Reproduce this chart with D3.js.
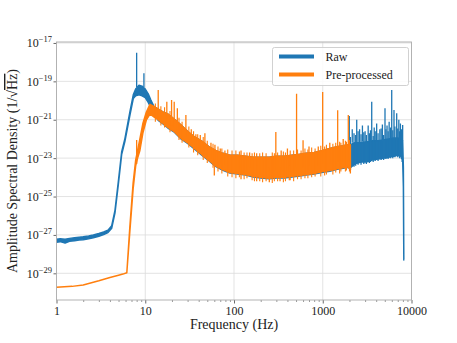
<!DOCTYPE html>
<html>
<head>
<meta charset="utf-8">
<script src="https://cdn.jsdelivr.net/npm/d3@7"></script>
<style>
  body { margin: 0; background: #fff; }
  text { font-family: "Liberation Serif", "DejaVu Serif", serif; fill: #222; }
</style>
</head>
<body>
<div id="chart"></div>
<script>
// values are log10 of the amplitude spectral density (1/sqrt(Hz))

// Raw strain: noise band (freq, lower edge, upper edge)
var rawF  = [1, 1.1, 1.25, 1.4, 1.6, 1.8, 2, 2.3, 2.6, 3, 3.4, 3.8, 4.19, 4.56, 4.97, 5.42, 5.9, 6.73, 7.33, 7.8, 8.5, 9.2, 10, 10.8, 11.5, 12.5,
             14, 16, 18, 21, 25, 30, 36, 43, 52, 62, 75, 90, 110, 135, 165, 200, 250, 300, 370, 450, 550, 650, 800, 1000, 1200, 1450, 1700, 1900,
             2048, 2300, 2700, 3100, 3600, 4200, 4800, 5500, 6300, 7000, 7600, 7950, 8100, 8192];
var rawLo = [-27.38, -27.35, -27.42, -27.33, -27.3, -27.27, -27.25, -27.2, -27.15, -27.07, -26.98, -26.88, -26.65, -25.85, -24.38, -22.82, -22.12, -20.75, -19.9, -19.75, -19.7, -19.75, -19.85, -20.1, -20.35, -20.7,
             -21.03, -21.23, -21.43, -21.63, -21.98, -22.23, -22.53, -22.83, -23.13, -23.43, -23.63, -23.78, -23.83, -23.88, -23.98, -24.03, -24.08, -24.03, -24.03, -23.98, -23.93, -23.88, -23.83, -23.73, -23.68, -23.58, -23.53, -23.48,
             -23.5, -23.3, -23.2, -23.2, -23.1, -23.05, -23.0, -22.95, -22.9, -22.85, -22.9, -23.1, -24.5, -28.3];
var rawHi = [-27.22, -27.2, -27.22, -27.18, -27.15, -27.12, -27.1, -27.05, -27.0, -26.93, -26.85, -26.75, -26.52, -25.72, -24.24, -22.68, -21.98, -20.57, -19.7, -19.4, -19.2, -19.25, -19.4, -19.65, -19.95, -20.3,
             -20.45, -20.6, -20.7, -20.95, -21.25, -21.6, -21.9, -22.1, -22.4, -22.6, -22.75, -22.85, -22.85, -22.9, -22.95, -22.95, -22.95, -22.9, -22.9, -22.85, -22.8, -22.75, -22.7, -22.6, -22.5, -22.4, -22.35, -22.3,
             -22.3, -22.2, -22.2, -22.15, -22.1, -22.1, -22.05, -22.0, -21.95, -21.95, -22.0, -22.1, -23.5, -28.3];

// Raw strain: narrow lines (freq, foot, tip)
var rawSpikeF  = [8.0, 9.66, 1990, 2150, 2414, 2600, 2800, 3000, 3250, 3563, 3800, 4050, 4400, 4700, 5028, 5300, 5600, 5985, 6350, 6810, 7200, 7500, 7950,
                  2050, 2250, 2350, 2500, 2700, 2900, 3100, 3350, 3450, 3700, 3900, 4200, 4550, 4850, 5150, 5450, 5800, 6150, 6500, 7000, 7350, 7700, 7850];
var rawSpikeLo = [-19.3, -19.3, -22.3, -22.2, -22.2, -22.2, -22.15, -22.15, -22.1, -22.1, -22.1, -22.1, -22.1, -22.05, -22.05, -22.0, -22.0, -22.0, -21.95, -21.95, -21.95, -22.0, -22.1,
                  -23.6, -23.45, -23.4, -23.35, -23.35, -23.3, -23.3, -23.25, -23.2, -23.2, -23.15, -23.15, -23.1, -23.1, -23.05, -23.05, -23.0, -23.0, -22.95, -22.95, -23.0, -23.05, -23.2];
var rawSpikeHi = [-17.51, -18.58, -20.8, -21.5, -21.0, -21.5, -21.3, -21.6, -21.3, -20.06, -21.4, -21.2, -21.5, -21.25, -20.4, -21.3, -21.1, -19.45, -20.49, -20.66, -21.0, -21.2, -21.27,
                  -21.9, -21.7, -21.8, -21.6, -21.75, -21.65, -21.8, -21.7, -21.55, -21.85, -21.6, -21.7, -21.45, -21.8, -21.5, -21.6, -21.4, -21.55, -21.35, -21.45, -21.6, -21.5, -21.7];

// Pre-processed strain: noise band
var prepF  = [1, 1.5, 2, 3, 4, 5, 5.6, 6.2, 6.7, 7.3, 7.8, 8.2, 8.7, 9.4, 10.3, 11.3, 12.5, 14, 16, 18, 21, 25, 30, 36, 43, 52, 62, 75, 90,
              110, 135, 165, 200, 250, 300, 370, 450, 550, 650, 800, 1000, 1200, 1450, 1700, 1900, 2048];
var prepLo = [-29.73, -29.68, -29.61, -29.39, -29.22, -29.1, -29.04, -28.97, -26.85, -24.6, -23.4, -23.0, -22.6, -21.7, -21.0, -20.7, -20.85, -21.0, -21.2, -21.4, -21.6, -21.95, -22.2, -22.5, -22.8, -23.1, -23.4, -23.6, -23.75,
              -23.8, -23.85, -23.95, -24.0, -24.05, -24.0, -24.0, -23.95, -23.9, -23.85, -23.8, -23.7, -23.65, -23.55, -23.5, -23.45, -23.6];
var prepHi = [-29.73, -29.68, -29.61, -29.39, -29.22, -29.1, -29.04, -28.97, -26.6, -24.3, -23.1, -22.6, -22.0, -21.2, -20.6, -20.2, -20.3, -20.45, -20.6, -20.7, -20.95, -21.25, -21.6, -21.9, -22.1, -22.4, -22.6, -22.75, -22.85,
              -22.85, -22.9, -22.95, -22.95, -22.95, -22.9, -22.9, -22.85, -22.8, -22.75, -22.7, -22.6, -22.5, -22.4, -22.35, -22.3, -22.3];

// Pre-processed strain: narrow lines and dips
var prepSpikeF  = [8.0, 14.0, 17.5, 19.8, 21.2, 23, 28.7, 33, 37.2, 41.7, 47, 55, 61, 70, 79, 120, 150, 180, 296, 340, 400, 507, 600, 700, 890, 998, 1200, 1473, 1700, 1940,
                   60, 120, 180, 250, 330, 420, 2048];
var prepSpikeLo = [-23.3, -20.9, -21.1, -21.3, -21.4, -21.5, -21.9, -22.1, -22.4, -22.6, -22.8, -23.0, -23.2, -23.3, -23.4, -23.5, -23.5, -23.5, -23.6, -23.6, -23.5, -23.5, -23.5, -23.4, -23.4, -23.3, -23.3, -23.2, -23.2, -23.1,
                    -23.0, -23.3, -23.4, -23.5, -23.5, -23.4, -23.0];
var prepSpikeHi = [-22.05, -19.45, -20.06, -19.97, -20.06, -20.4, -20.75, -21.5, -21.75, -21.8, -21.7, -22.2, -22.3, -22.5, -22.6, -22.6, -22.7, -22.75, -21.64, -22.6, -22.5, -19.64, -22.07, -22.4, -22.4, -19.55, -22.2, -20.5, -22.0, -20.75,
                    -23.9, -24.1, -24.2, -24.25, -24.2, -24.15, -23.8];

// Pre-processed strain: ragged edges of the noise band
var prepRagF  = [13, 15, 16.5, 19, 24, 26, 31, 35, 39, 45, 50, 58, 66, 73, 85, 95, 105, 115, 130, 140, 160, 170, 195, 210, 230, 270, 285, 310, 360, 380,
                 430, 470, 520, 570, 630, 680, 750, 820, 950, 1050, 1100, 1300, 1400, 1550, 1600, 1800, 1850, 2000];
var prepRagLo = [-21.1, -21.3, -21.4, -21.65, -22.05, -22.2, -22.45, -22.7, -22.85, -23.1, -23.25, -23.5, -23.7, -23.8, -23.95, -24.0, -24.05, -24.0, -24.1, -24.05, -24.15, -24.2, -24.2, -24.25, -24.2, -24.3, -24.2, -24.2, -24.25, -24.2,
                 -24.15, -24.2, -24.1, -24.1, -24.05, -24.05, -24.0, -23.95, -23.95, -23.9, -23.85, -23.85, -23.75, -23.8, -23.7, -23.7, -23.65, -23.7];
var prepRagHi = [-20.15, -20.3, -20.35, -20.55, -20.9, -21.1, -21.35, -21.6, -21.75, -21.9, -22.1, -22.25, -22.4, -22.5, -22.55, -22.6, -22.6, -22.65, -22.7, -22.7, -22.75, -22.7, -22.75, -22.7, -22.75, -22.7, -22.75, -22.7, -22.65, -22.7,
                 -22.6, -22.6, -22.55, -22.6, -22.5, -22.55, -22.45, -22.5, -22.35, -22.4, -22.3, -22.25, -22.2, -22.15, -22.2, -22.1, -22.15, -22.05];

var xTicks = [1, 10, 100, 1000, 10000];
var yTickExp = [-17, -19, -21, -23, -25, -27, -29];
var seriesNames = ["Raw", "Pre-processed"];
var seriesColors = ["#1f77b4", "#ff7f0e"];

var W = 457, H = 343;
var pLeft = 56.5, pRight = 411.5, pTop = 42, pBottom = 300;

var svg = d3.select("#chart").append("svg")
  .attr("width", W).attr("height", H);

var x = d3.scaleLog().domain([1, 10000]).range([pLeft, pRight]);
var y = d3.scaleLog().domain([Math.pow(10, -30.39), Math.pow(10, -16.95)]).range([pBottom, pTop]);

function zip(F, lo, hi) {
  return F.map(function(f, i) { return {f: f, lo: Math.pow(10, lo[i]), hi: Math.pow(10, hi[i])}; });
}

// grid
svg.append("g").selectAll("line").data(xTicks.slice(1, -1)).enter().append("line")
  .attr("x1", function(d) { return x(d); }).attr("x2", function(d) { return x(d); })
  .attr("y1", pTop).attr("y2", pBottom)
  .attr("stroke", "#dcdcdc").attr("stroke-width", 0.8);
svg.append("g").selectAll("line").data(yTickExp).enter().append("line")
  .attr("x1", pLeft).attr("x2", pRight)
  .attr("y1", function(d) { return y(Math.pow(10, d)); }).attr("y2", function(d) { return y(Math.pow(10, d)); })
  .attr("stroke", "#dcdcdc").attr("stroke-width", 0.8);

svg.append("clipPath").attr("id", "clip").append("rect")
  .attr("x", pLeft).attr("y", pTop).attr("width", pRight - pLeft).attr("height", pBottom - pTop);

var plot = svg.append("g").attr("clip-path", "url(#clip)");

var area = d3.area()
  .x(function(d) { return x(d.f); })
  .y0(function(d) { return y(d.lo); })
  .y1(function(d) { return y(d.hi); });

function drawBand(F, lo, hi, color) {
  plot.append("path").datum(zip(F, lo, hi))
    .attr("d", area)
    .attr("fill", color).attr("stroke", color)
    .attr("stroke-width", 1.5).attr("stroke-linejoin", "round");
}

function drawSticks(F, lo, hi, color, w) {
  plot.append("g").selectAll("line").data(zip(F, lo, hi)).enter().append("line")
    .attr("x1", function(d) { return x(d.f); }).attr("x2", function(d) { return x(d.f); })
    .attr("y1", function(d) { return y(d.lo); }).attr("y2", function(d) { return y(d.hi); })
    .attr("stroke", color).attr("stroke-width", w);
}

drawBand(rawF, rawLo, rawHi, seriesColors[0]);
drawSticks(rawSpikeF, rawSpikeLo, rawSpikeHi, seriesColors[0], 1.3);
drawBand(prepF, prepLo, prepHi, seriesColors[1]);
drawSticks(prepRagF, prepRagLo, prepRagHi, seriesColors[1], 1.1);
drawSticks(prepSpikeF, prepSpikeLo, prepSpikeHi, seriesColors[1], 1.3);

// axes
var xMinor = svg.append("g").attr("transform", "translate(0," + pBottom + ")")
  .call(d3.axisBottom(x)
    .tickValues(d3.range(0, 4).flatMap(function(e) { return [2,3,4,5,6,7,8,9].map(function(m) { return m * Math.pow(10, e); }); }))
    .tickSize(2).tickFormat(""));
xMinor.select(".domain").remove();
xMinor.selectAll("line").attr("stroke", "#555").attr("stroke-width", 0.6);

var xMajor = svg.append("g").attr("transform", "translate(0," + pBottom + ")")
  .call(d3.axisBottom(x).tickValues(xTicks).tickSize(3.5).tickPadding(3).tickFormat(d3.format("d")));
xMajor.select(".domain").remove();
xMajor.selectAll("line").attr("stroke", "#444").attr("stroke-width", 0.8);
xMajor.selectAll("text").attr("font-size", 12).attr("font-family", "Liberation Serif").attr("fill", "#222");

var yAxis = svg.append("g").attr("transform", "translate(" + pLeft + ",0)")
  .call(d3.axisLeft(y).tickValues(yTickExp.map(function(e) { return Math.pow(10, e); })).tickSize(3).tickFormat(""));
yAxis.select(".domain").remove();
yAxis.selectAll("line").attr("stroke", "#444").attr("stroke-width", 0.8);

var yLab = svg.append("g").selectAll("text").data(yTickExp).enter().append("text")
  .attr("x", pLeft - 4.5).attr("y", function(d) { return y(Math.pow(10, d)) + 4.5; })
  .attr("text-anchor", "end").attr("font-size", 12);
yLab.append("tspan").text("10");
yLab.append("tspan").attr("dy", -5).attr("font-size", 8.5).text(function(d) { return "\u2212" + Math.abs(d); });

// frame
svg.append("rect").attr("x", pLeft).attr("y", pTop).attr("width", pRight - pLeft).attr("height", pBottom - pTop)
  .attr("fill", "none").attr("stroke", "#aaa").attr("stroke-width", 0.9);

// axis titles
svg.append("text").attr("x", (pLeft + pRight) / 2).attr("y", 329).attr("text-anchor", "middle")
  .attr("font-size", 14).text("Frequency (Hz)");

var yt = svg.append("text").attr("transform", "translate(17," + ((pTop + pBottom) / 2) + ") rotate(-90)")
  .attr("text-anchor", "middle").attr("font-size", 14);
yt.append("tspan").text("Amplitude Spectral Density (1/\u221A");
yt.append("tspan").attr("text-decoration", "overline").text("Hz");
yt.append("tspan").text(")");

// legend
var lg = svg.append("g").attr("transform", "translate(272.5,47.5)");
lg.append("rect").attr("width", 136).attr("height", 38).attr("rx", 2)
  .attr("fill", "rgba(255,255,255,0.85)").attr("stroke", "#ccc").attr("stroke-width", 0.9);
seriesNames.forEach(function(name, i) {
  var yy = 9 + i * 18;
  lg.append("line").attr("x1", 6.5).attr("x2", 41.5).attr("y1", yy).attr("y2", yy)
    .attr("stroke", seriesColors[i]).attr("stroke-width", 4);
  lg.append("text").attr("x", 53).attr("y", yy + 4).attr("font-size", 12).text(name);
});
</script>
</body>
</html>
